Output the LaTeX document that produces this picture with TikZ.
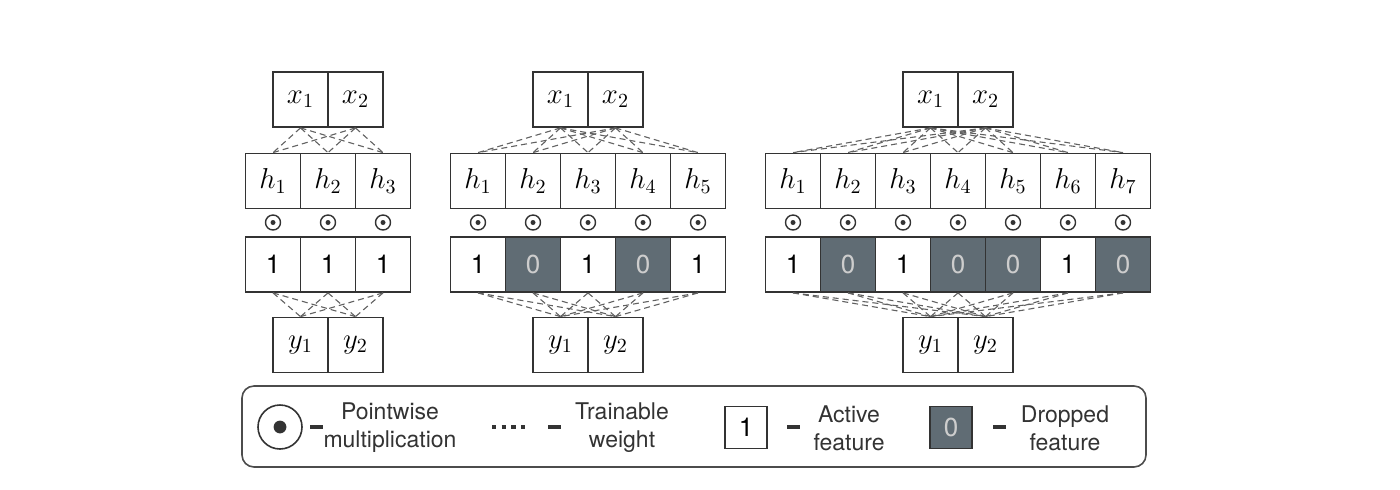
\documentclass[tikz,border=0pt]{standalone}
\usepackage{amsmath}
\usepackage{fontspec}
\setsansfont{TeX Gyre Heros}
\usetikzlibrary{positioning}

\definecolor{dropgray}{RGB}{96,108,116}
\definecolor{zerogray}{RGB}{205,205,205}

\begin{document}
\begin{tikzpicture}[x=0.5pt,y=-0.5pt,
		cell/.style={draw=black!80,line width=0.9pt,minimum size=27.5pt,inner sep=0pt,font=\fontsize{14.5}{16}\selectfont},
		bit1/.style={cell,fill=white,font=\sffamily\fontsize{13}{15}\selectfont},
		bit0/.style={cell,fill=dropgray,text=zerogray,font=\sffamily\fontsize{13}{15}\selectfont},
		wire/.style={densely dashed,draw=black!62,line width=0.55pt},
		odot/.style={circle,draw=black!80,line width=0.7pt,minimum size=7.5pt,inner sep=0pt,
			path picture={\fill[black!80] (path picture bounding box.center) circle (1.25pt);}},
		legtext/.style={align=center,font=\sffamily\fontsize{11.5}{14}\selectfont,text=black!80},
		legdash/.style={fill=black!80,minimum width=6.5pt,minimum height=1.6pt,inner sep=0pt}]
	\useasboundingbox (0,0) rectangle (1400,489);
	% left net, 3 hidden units
	\foreach \i in {1,2} \node[cell] (xa\i) at ({328+(\i-1.5)*55},99.5) {$x_{\i}$};
	\foreach \i in {1,...,3} \node[cell] (ha\i) at ({328+(\i-2)*55},181) {$h_{\i}$};
	\foreach \i in {1,...,3} \node[odot] (oa\i) at ({328+(\i-2)*55},222.5) {};
	\foreach \m [count=\i] in {1,1,1} \node[bit\m] (ma\i) at ({328+(\i-2)*55},264.5) {\m};
	\foreach \i in {1,2} \node[cell] (ya\i) at ({328+(\i-1.5)*55},345) {$y_{\i}$};
	\foreach \i in {1,2} \foreach \j in {1,...,3} {
		\draw[wire] (xa\i.south) -- (ha\j.north);
		\draw[wire] (ma\j.south) -- (ya\i.north);
	}
	% middle net, 5 hidden units
	\foreach \i in {1,2} \node[cell] (xb\i) at ({588+(\i-1.5)*55},99.5) {$x_{\i}$};
	\foreach \i in {1,...,5} \node[cell] (hb\i) at ({588+(\i-3)*55},181) {$h_{\i}$};
	\foreach \i in {1,...,5} \node[odot] (ob\i) at ({588+(\i-3)*55},222.5) {};
	\foreach \m [count=\i] in {1,0,1,0,1} \node[bit\m] (mb\i) at ({588+(\i-3)*55},264.5) {\m};
	\foreach \i in {1,2} \node[cell] (yb\i) at ({588+(\i-1.5)*55},345) {$y_{\i}$};
	\foreach \i in {1,2} \foreach \j in {1,...,5} {
		\draw[wire] (xb\i.south) -- (hb\j.north);
		\draw[wire] (mb\j.south) -- (yb\i.north);
	}
	% right net, 7 hidden units
	\foreach \i in {1,2} \node[cell] (xc\i) at ({958+(\i-1.5)*55},99.5) {$x_{\i}$};
	\foreach \i in {1,...,7} \node[cell] (hc\i) at ({958+(\i-4)*55},181) {$h_{\i}$};
	\foreach \i in {1,...,7} \node[odot] (oc\i) at ({958+(\i-4)*55},222.5) {};
	\foreach \m [count=\i] in {1,0,1,0,0,1,0} \node[bit\m] (mc\i) at ({958+(\i-4)*55},264.5) {\m};
	\foreach \i in {1,2} \node[cell] (yc\i) at ({958+(\i-1.5)*55},345) {$y_{\i}$};
	\foreach \i in {1,2} \foreach \j in {1,...,7} {
		\draw[wire] (xc\i.south) -- (hc\j.north);
		\draw[wire] (mc\j.south) -- (yc\i.north);
	}
	% legend
	\draw[draw=black!70,line width=0.8pt,rounded corners=6pt] (242,386) rectangle (1146,467);
	\node[odot,minimum size=22pt,line width=0.8pt,
		path picture={\fill[black!80] (path picture bounding box.center) circle (3.2pt);}] (lgodot) at (280,427) {};
	\node[legdash] (lgd1) at (316,427) {};
	\node[legtext] (lgmul) at (390,428) {Pointwise\\multiplication};
	\draw[draw=black!80,line width=2.2pt,dash pattern=on 2.2pt off 2.6pt] (492,427) -- (530,427);
	\node[legdash] (lgd2) at (554,427) {};
	\node[legtext] (lgweight) at (622,428) {Trainable\\weight};
	\node[bit1,minimum size=21pt] (lgone) at (746,427.5) {1};
	\node[legdash] (lgd3) at (793,427) {};
	\node[legtext] (lgactive) at (849,428) {Active\\feature};
	\node[bit0,minimum size=21pt] (lgzero) at (951,427.5) {0};
	\node[legdash] (lgd4) at (999,427) {};
	\node[legtext] (lgdrop) at (1065,428) {Dropped\\feature};
\end{tikzpicture}
\end{document}
